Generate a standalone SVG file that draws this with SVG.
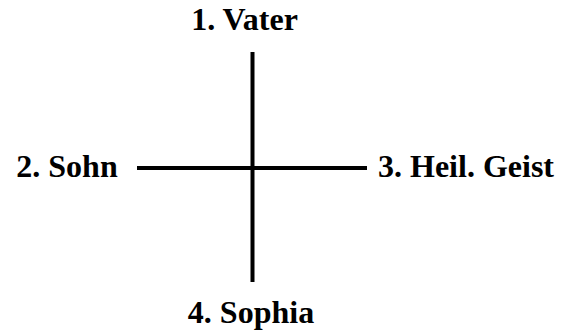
<svg xmlns="http://www.w3.org/2000/svg" width="561" height="335" viewBox="0 0 561 335">
<style>
.lbl{font-family:"Liberation Serif","Times New Roman",serif;font-weight:bold;font-size:32px;fill:#000;text-anchor:middle}
.ln{stroke:#000;stroke-width:4;fill:none}
</style>
<rect width="561" height="335" fill="#fff"/>
<g id="connectors">
<line class="ln" x1="252.5" y1="52" x2="252.5" y2="282"/>
<line class="ln" x1="137" y1="168" x2="367" y2="168"/>
</g>
<g id="n1"><text class="lbl" x="244.5" y="30">1. Vater</text></g>
<g id="n2"><text class="lbl" x="67" y="177">2. Sohn</text></g>
<g id="n3"><text class="lbl" x="466" y="177">3. Heil. Geist</text></g>
<g id="n4"><text class="lbl" x="251" y="323">4. Sophia</text></g>
</svg>
